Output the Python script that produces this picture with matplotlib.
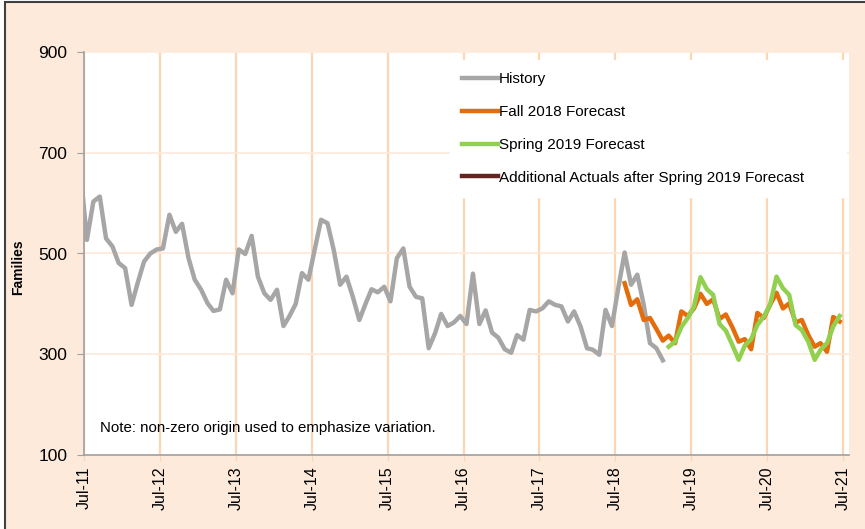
import pandas as pd
import matplotlib
matplotlib.use("Agg")
import matplotlib.pyplot as plt
import matplotlib.dates as mdates
from matplotlib.patches import Rectangle

plt.rcParams['font.family'] = ['Liberation Sans', 'DejaVu Sans']

# Monthly history (mid-month points), Jun-11 .. Feb-19
history = [660, 527, 603, 613, 530, 514, 481, 471, 398, 441, 484, 500, 508,
           510, 577, 543, 559, 491, 448, 428, 401, 386, 389, 448, 421,
           508, 499, 535, 454, 421, 408, 428, 356, 375, 400, 461, 448,
           507, 567, 560, 507, 438, 454, 414, 368, 398, 429, 423, 434,
           405, 491, 510, 434, 414, 411, 312, 342, 380, 356, 363, 376,
           360, 460, 360, 387, 343, 333, 310, 303, 338, 329, 388, 385,
           391, 405, 398, 395, 365, 385, 355, 312, 309, 299, 388, 356,
           430, 502, 438, 458, 398, 322, 312, 288]
history_start = '2011-06-01'

# Fall 2018 forecast, Aug-18 .. Jun-21
fall_2018 = [441, 398, 409, 368, 372, 350, 327, 337, 322, 385, 376,
             391, 420, 400, 409, 370, 379, 354, 325, 330, 310, 382, 372,
             398, 422, 391, 401, 363, 368, 338, 315, 322, 305, 374, 365]
fall_start = '2018-08-01'

# Spring 2019 forecast, Mar-19 .. Jun-21
spring_2019 = [315, 325, 354, 372, 395, 453, 429, 418, 360, 347,
               319, 289, 317, 330, 358, 375, 398, 454, 431, 418, 358, 348,
               325, 289, 309, 322, 355, 376]
spring_start = '2019-03-01'

# No additional actuals shown yet
additional = []

tick_years = list(range(2011, 2022))


def month_dates(start, n):
    # points sit in the middle of each month
    return pd.date_range(start, periods=n, freq='MS') + pd.Timedelta(days=14)


peach = '#FDEADA'
fig = plt.figure(figsize=(8.65, 5.29), dpi=100)
fig.patch.set_facecolor('white')
# chart area with dark frame on top/left
fig.patches.append(Rectangle((5 / 865, -0.1), 1.2, 1.1 - 2 / 529, transform=fig.transFigure,
                             facecolor=peach, edgecolor='#404040', linewidth=1.5, zorder=-10))

ax = fig.add_axes([84 / 865, 1 - 455 / 529, (849 - 84) / 865, (455 - 52) / 529])
ax.set_facecolor('white')

ax.plot(month_dates(history_start, len(history)), history, color='#A6A6A6', lw=3.2,
        label='History', zorder=3)
ax.plot(month_dates(fall_start, len(fall_2018)), fall_2018, color='#E46C0A', lw=3.2,
        label='Fall 2018 Forecast', zorder=4)
ax.plot(month_dates(spring_start, len(spring_2019)), spring_2019, color='#92D050', lw=3.2,
        label='Spring 2019 Forecast', zorder=5)
ax.plot(month_dates('2019-03-01', len(additional)), additional, color='#632523', lw=3.2,
        label='Additional Actuals after Spring 2019 Forecast', zorder=6)

# axes limits and ticks
ax.set_ylim(100, 900)
ax.set_yticks([100, 300, 500, 700, 900])
ax.set_xlim(pd.Timestamp('2011-07-01'), pd.Timestamp('2021-07-30'))
xt = [pd.Timestamp(f'{y}-07-01') for y in tick_years]
ax.set_xticks(xt)
ax.xaxis.set_major_formatter(mdates.DateFormatter('%b-%y'))
plt.setp(ax.get_xticklabels(), rotation=90)

ax.tick_params(axis='y', labelsize=12.5, length=5, color='#A0A0A0', pad=7)
ax.tick_params(axis='x', labelsize=11.5, length=4, color='#FCD5B5', pad=4)

# gridlines
ax.yaxis.grid(True, color='#FDE9D9', lw=1.2)
ax.xaxis.grid(True, color='#FCD5B5', lw=1.6)
ax.set_axisbelow(True)

for s in ['top', 'right']:
    ax.spines[s].set_visible(False)
for s in ['left', 'bottom']:
    ax.spines[s].set_color('#A0A0A0')
    ax.spines[s].set_linewidth(1.2)

ax.set_ylabel('Families', fontsize=10, fontweight='bold')
ax.yaxis.set_label_coords(-0.077, 0.465)

ax.text((100 - 84) / 765, 1 - (428 - 52) / 403,
        'Note: non-zero origin used to emphasize variation.',
        fontsize=10.8, va='center', transform=ax.transAxes)

# legend box stretched to the right edge like the original
leg = ax.legend(loc='upper left', bbox_to_anchor=(0.478, 0.5, 0.518, 0.48), mode='expand',
                fontsize=11, frameon=True, fancybox=False, framealpha=1, edgecolor='white',
                handlelength=2.35, handletextpad=0.05, labelspacing=1.23,
                borderpad=0.8, borderaxespad=0)
leg.get_frame().set_facecolor('white')
leg.set_zorder(10)

plt.savefig('out.png', dpi=100, facecolor=fig.get_facecolor())
